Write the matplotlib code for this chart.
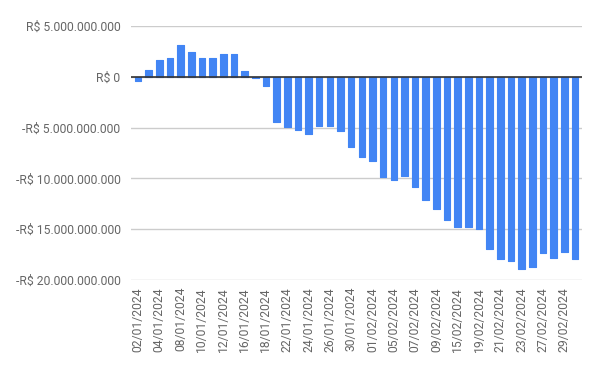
import matplotlib
matplotlib.use("Agg")
import matplotlib.pyplot as plt
from matplotlib.ticker import FuncFormatter, FixedLocator

dates = ["02/01/2024", "03/01/2024", "04/01/2024", "05/01/2024", "08/01/2024",
         "09/01/2024", "10/01/2024", "11/01/2024", "12/01/2024", "15/01/2024",
         "16/01/2024", "17/01/2024", "18/01/2024", "19/01/2024", "22/01/2024",
         "23/01/2024", "24/01/2024", "25/01/2024", "26/01/2024", "29/01/2024",
         "30/01/2024", "31/01/2024", "01/02/2024", "02/02/2024", "05/02/2024",
         "06/02/2024", "07/02/2024", "08/02/2024", "09/02/2024", "14/02/2024",
         "15/02/2024", "16/02/2024", "19/02/2024", "20/02/2024", "21/02/2024",
         "22/02/2024", "23/02/2024", "26/02/2024", "27/02/2024", "28/02/2024",
         "29/02/2024", "01/03/2024"]

values_bi = [-0.45, 0.69, 1.68, 1.87, 3.16, 2.47, 1.87, 1.87, 2.20, 2.27,
             0.59, -0.08, -0.95, -4.45, -4.97, -5.26, -5.65, -4.87, -4.87, -5.36,
             -6.93, -7.91, -8.30, -9.87, -10.16, -9.77, -10.85, -12.10, -12.99, -14.06,
             -14.75, -14.75, -14.94, -16.90, -17.98, -18.17, -18.96, -18.76, -17.39, -17.88,
             -17.29, -17.98]

y_ticks = [5e9, 0, -5e9, -10e9, -15e9, -20e9]

values = [v * 1e9 for v in values_bi]

plt.rcParams['font.family'] = ['Roboto', 'DejaVu Sans']

fig = plt.figure(figsize=(6.0, 3.71), dpi=100)
ax = fig.add_axes([131/600, 1-280/371, (582-131)/600, (280-26)/371])

x = list(range(len(dates)))
ax.bar(x, values, width=0.62, color="#4285F4", edgecolor="#4285F4",
       linewidth=0.8, joinstyle="round", zorder=3)

ax.set_ylim(-20e9, 5e9)
ax.set_xlim(-0.65, len(dates) - 0.35)

def fmt(v, pos=None):
    s = "{:,.0f}".format(abs(v)).replace(",", ".")
    return ("-R$ " if v < 0 else "R$ ") + s

ax.yaxis.set_major_locator(FixedLocator(y_ticks))
ax.yaxis.set_major_formatter(FuncFormatter(fmt))
ax.grid(axis="y", color="#cccccc", linewidth=1, zorder=0)
ax.axhline(0, color="#333333", linewidth=1.2, zorder=4)

ax.set_xticks(x[::2])
ax.set_xticklabels(dates[::2], rotation=90)

for s in ax.spines.values():
    s.set_visible(False)
ax.tick_params(axis="both", length=0, colors="#666666", labelsize=8.7)
ax.tick_params(axis="y", pad=7.5)
ax.tick_params(axis="x", pad=5)

fig.savefig("out.png", dpi=100)
